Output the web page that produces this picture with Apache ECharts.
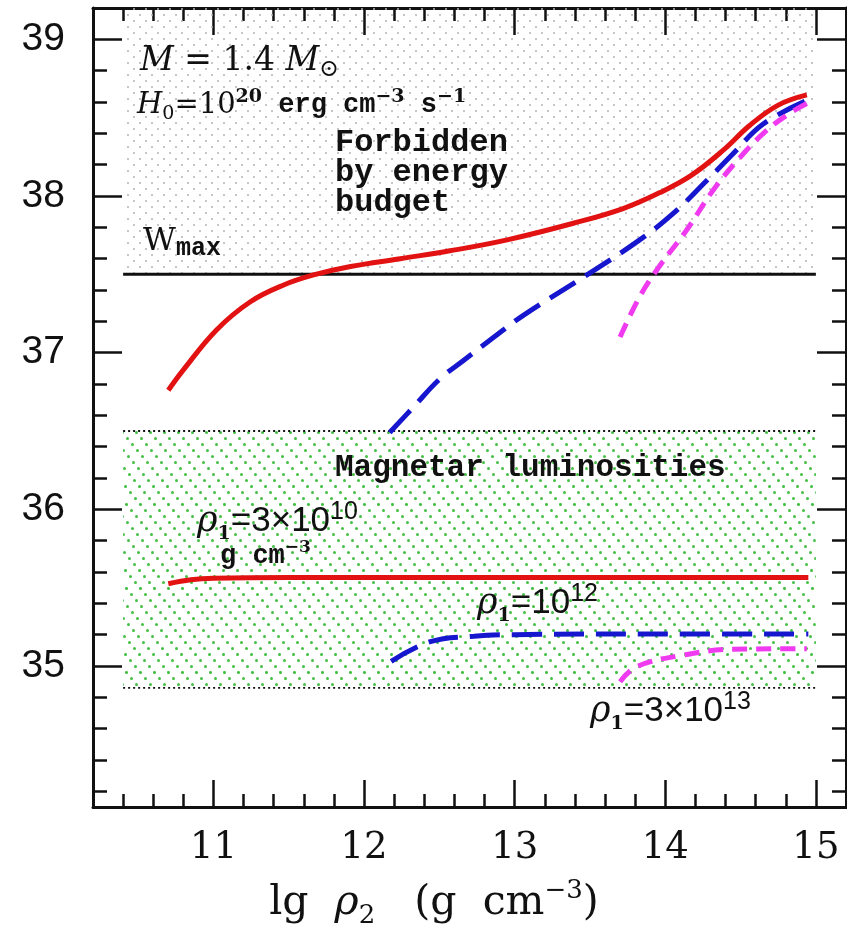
<!DOCTYPE html>
<html><head><meta charset="utf-8">
<script src="https://cdn.jsdelivr.net/npm/echarts@6/dist/echarts.min.js"></script>
<style>html,body{margin:0;padding:0;background:#fff}#c{width:847px;height:934px}</style>
</head><body><div id="c"></div>
<script>
// ---- data ----
const xMajorTicks = [11, 12, 13, 14, 15];
const xMinorTicks = [10.4,10.6,10.8,11.2,11.4,11.6,11.8,12.2,12.4,12.6,12.8,13.2,13.4,13.6,13.8,14.2,14.4,14.6,14.8];
const yMajorTicks = [35, 36, 37, 38, 39];
const yMinorTicks = [34.2,34.4,34.6,34.8,35.2,35.4,35.6,35.8,36.2,36.4,36.6,36.8,37.2,37.4,37.6,37.8,38.2,38.4,38.6,38.8];
const xRange = [10.2, 15.2];
const yRange = [34.1, 39.2];
const bandX = [10.4, 15.0];
const wMax = 37.5;
const forbiddenY = [37.5, 39.2];
const magnetarY = [34.86, 36.5];

const redUpper = [[10.70,36.76],[10.80,36.89],[11.02,37.145],[11.245,37.325],[11.466,37.432],[11.665,37.496],[11.91,37.55],[12.24,37.60],[12.57,37.65],[12.95,37.72],[13.39,37.826],[13.72,37.92],[13.96,38.02],[14.17,38.13],[14.387,38.294],[14.56,38.45],[14.75,38.58],[14.94,38.645]];
const blueUpper = [[12.17,36.49],[12.33,36.655],[12.50,36.83],[12.66,36.95],[12.85,37.09],[13.06,37.24],[13.48,37.496],[13.83,37.72],[14.055,37.89],[14.277,38.10],[14.45,38.27],[14.65,38.46],[14.94,38.61]];
const magentaUpper = [[13.70,37.10],[13.83,37.357],[13.96,37.55],[14.14,37.78],[14.32,38.04],[14.50,38.25],[14.675,38.42],[14.83,38.53],[14.94,38.59]];
const redLower = [[10.70,35.525],[10.85,35.55],[11.0,35.56],[11.5,35.565],[12.5,35.565],[13.5,35.565],[14.95,35.565]];
const blueLower = [[12.18,35.03],[12.44,35.155],[12.73,35.19],[13.0,35.20],[14.0,35.205],[14.95,35.205]];
const magentaLower = [[13.70,34.90],[13.81,34.996],[14.12,35.07],[14.45,35.107],[14.94,35.11]];

// ---- styles ----
const RED = '#e31212', BLUE = '#1616cf', MAG = '#f03af0', INK = '#111';
const SERIF = 'DejaVu Serif', MONO = 'Liberation Mono', SANS = 'Liberation Sans';

function makePattern(w, h, pts, color, r) {
  const c = document.createElement('canvas');
  c.width = w; c.height = h;
  const ctx = c.getContext('2d');
  ctx.fillStyle = color;
  pts.forEach(([px, py]) => {
    for (let dx = -w; dx <= w; dx += w) for (let dy = -h; dy <= h; dy += h) {
      ctx.beginPath(); ctx.arc(px + dx, py + dy, r, 0, Math.PI * 2); ctx.fill();
    }
  });
  return { image: c, repeat: 'repeat' };
}
const greenPts = []; for (let m = 0; m < 14; m++) greenPts.push([(5 * m) % 14 + 0.5, 6 * m + 0.5]);
const greenPat = makePattern(14, 84, greenPts, '#44c044', 1.5);
const grayPat = makePattern(12, 12, [[2, 9], [8, 3]], '#b9b0b9', 1.0);

function xAxis(pos, ticks, len, showLabel, showLine) {
  return {
    type: 'value', min: xRange[0], max: xRange[1], position: pos, gridIndex: 0,
    axisLine: { show: showLine, onZero: false, lineStyle: { color: INK, width: 3 } },
    axisTick: { show: true, inside: true, length: len, customValues: ticks, lineStyle: { color: INK, width: 2.5 } },
    axisLabel: { show: showLabel, customValues: xMajorTicks, margin: 23, color: INK, fontFamily: SERIF, fontSize: 37 },
    splitLine: { show: false }
  };
}
function yAxis(pos, ticks, len, showLabel, showLine) {
  return {
    type: 'value', min: yRange[0], max: yRange[1], position: pos, gridIndex: 0,
    axisLine: { show: showLine, onZero: false, lineStyle: { color: INK, width: 3 } },
    axisTick: { show: true, inside: true, length: len, customValues: ticks, lineStyle: { color: INK, width: 2.5 } },
    axisLabel: { show: showLabel, customValues: yMajorTicks, margin: 28, color: INK, fontFamily: SANS, fontSize: 39 },
    splitLine: { show: false }
  };
}

function lineSeries(name, data, color, width, type, smooth) {
  return { name, type: 'line', data, symbol: 'none', smooth: smooth, silent: true, z: 5,
    lineStyle: { color, width, type, cap: 'butt' } };
}

function txt(x, baseline, text, rich, mainSize, align) {
  const L = Math.round(mainSize * 1.25);
  return { type: 'text', x, y: baseline - (L / 2 + 0.33 * mainSize), z: 50,
    style: { text, rich, align: align || 'left', verticalAlign: 'top', fill: INK } };
}
function R(fontFamily, fontSize, extra) {
  return Object.assign({ fontFamily, fontSize, lineHeight: Math.round(fontSize * 1.25), fill: INK }, extra || {});
}
const rhoRich = {
  p: R(SERIF, 35, { fontStyle: 'italic' }), s: R(SANS, 35),
  sub: R(SERIF, 19, { fontWeight: 'bold', verticalAlign: 'bottom', lineHeight: 20 }),
  sup: R(SANS, 25, { verticalAlign: 'top', lineHeight: 24 })
};

const chart = echarts.init(document.getElementById('c'), null, { renderer: 'canvas' });
chart.setOption({
  animation: false,
  backgroundColor: '#fff',
  grid: { left: 93, top: 8, right: 1, bottom: 127, containLabel: false },
  xAxis: [
    xAxis('bottom', xMajorTicks, 27, true, true),
    xAxis('bottom', xMinorTicks, 13, false, false),
    xAxis('top', xMajorTicks, 27, false, true),
    xAxis('top', xMinorTicks, 13, false, false)
  ],
  yAxis: [
    yAxis('left', yMajorTicks, 29, true, true),
    yAxis('left', yMinorTicks, 14, false, false),
    yAxis('right', yMajorTicks, 29, false, true),
    yAxis('right', yMinorTicks, 14, false, false)
  ],
  series: [
    { name: 'bands', type: 'line', data: [], symbol: 'none', silent: true, z: 1,
      markArea: { silent: true, data: [
        [{ coord: [bandX[0], forbiddenY[1]], itemStyle: { color: grayPat, opacity: 1 } }, { coord: [bandX[1], forbiddenY[0]] }],
        [{ coord: [bandX[0], magnetarY[1]], itemStyle: { color: greenPat, opacity: 1 } }, { coord: [bandX[1], magnetarY[0]] }]
      ] } },
    lineSeries('Wmax', [[bandX[0], wMax], [bandX[1], wMax]], INK, 3, 'solid', false),
    lineSeries('magTop', [[bandX[0], magnetarY[1]], [bandX[1], magnetarY[1]]], INK, 1.8, [2, 3], false),
    lineSeries('magBottom', [[bandX[0], magnetarY[0]], [bandX[1], magnetarY[0]]], INK, 1.8, [2, 3], false),
    lineSeries('redUpper', redUpper, RED, 5, 'solid', 0.4),
    lineSeries('blueUpper', blueUpper, BLUE, 5, [30, 12], 0.4),
    lineSeries('magentaUpper', magentaUpper, MAG, 5, [15, 9], 0.4),
    lineSeries('redLower', redLower, RED, 5, 'solid', 0.4),
    lineSeries('blueLower', blueLower, BLUE, 5, [30, 12], 0.4),
    lineSeries('magentaLower', magentaLower, MAG, 5, [15, 9], 0.4)
  ],
  graphic: [
    txt(140, 72, '{i|M}{r| = 1.4 }{i|M}{sub|⊙}', {
      i: R(SERIF, 33, { fontStyle: 'italic' }), r: R(SERIF, 33),
      sub: R(SERIF, 24, { verticalAlign: 'bottom', lineHeight: 22 }) }, 33),
    txt(137, 115, '{i|H}{sub|0}{r|=10}{sup|20}{m| erg cm}{sup|−3}{m| s}{sup|−1}', {
      i: R(SERIF, 29, { fontStyle: 'italic' }), r: R(SERIF, 29),
      sub: R(SERIF, 19, { verticalAlign: 'bottom', lineHeight: 18 }),
      sup: R(SERIF, 19, { verticalAlign: 'top', lineHeight: 21, fontWeight: 'bold' }),
      m: R(MONO, 27, { fontWeight: 'bold' }) }, 29),
    txt(335, 158, '{m|Forbidden}\n{m|by energy}\n{m|budget}', { m: R(MONO, 32, { lineHeight: 30, fontWeight: 'bold' }) }, 32),
    txt(143, 252, '{w|W}{sub|max}', {
      w: R(SERIF, 32), sub: R(MONO, 25, { fontWeight: 'bold', verticalAlign: 'bottom', lineHeight: 18 }) }, 32),
    txt(335, 478, '{m|Magnetar luminosities}', { m: R(MONO, 31, { fontWeight: 'bold' }) }, 31),
    txt(197, 533, '{p|ρ}{sub|1}{s|=3×10}{sup|10}', rhoRich, 35),
    txt(220, 565, '{m|g cm}{sup|−3}', { m: R(MONO, 27, { fontWeight: 'bold' }),
      sup: R(SERIF, 17, { verticalAlign: 'top', lineHeight: 18, fontWeight: 'bold' }) }, 27),
    txt(477, 615, '{p|ρ}{sub|1}{s|=10}{sup|12}', rhoRich, 35),
    txt(590, 723, '{p|ρ}{sub|1}{s|=3×10}{sup|13}', rhoRich, 35),
    txt(434, 917, '{r|lg  }{p|ρ}{sub|2}{r|   (g  cm}{sup|−3}{r|)}', {
      r: R(SERIF, 41), p: R(SERIF, 41, { fontStyle: 'italic' }),
      sub: R(SERIF, 26, { verticalAlign: 'bottom', lineHeight: 38 }),
      sup: R(SERIF, 26, { verticalAlign: 'top', lineHeight: 32 }) }, 41, 'center')
  ]
});
</script></body></html>
